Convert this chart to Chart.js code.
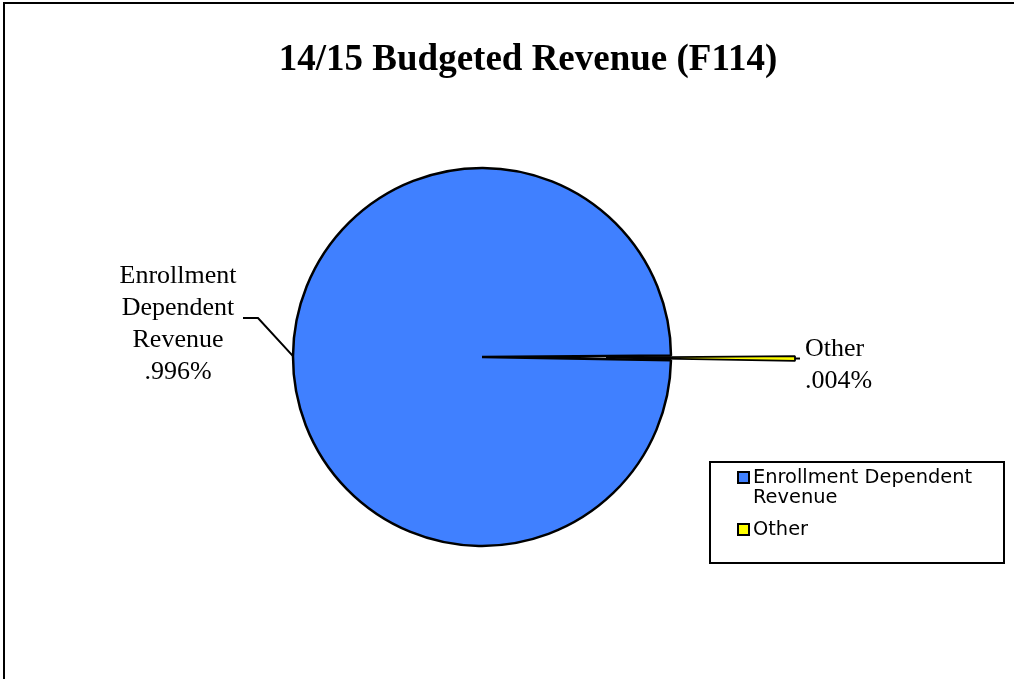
<!DOCTYPE html>
<html>
<head>
<meta charset="utf-8">
<title>14/15 Budgeted Revenue (F114)</title>
<script src="https://cdn.jsdelivr.net/npm/chart.js@4"></script>
<style>
    html, body { margin: 0; padding: 0; background: #fff; }
    canvas { display: block; }
</style>
</head>
<body>
<canvas id="revenueChart" width="1014" height="679"></canvas>
<script>
// Revenue split for the budget year
const chartTitle = '14/15 Budgeted Revenue (F114)';
const categories = ['Enrollment Dependent Revenue', 'Other'];
const shares = [0.996, 0.004];
const sliceColors = ['#4080ff', '#ffff00'];

const serif = '"Liberation Serif"';
const sans = '"DejaVu Sans"';

// ".996%" style labels, as printed on the chart
function shareLabel(v) {
    return String(v).replace(/^0(?=\.)/, '') + '%';
}

function wrapWords(ctx, text, maxWidth) {
    const words = text.split(' ');
    const lines = [];
    let line = '';
    words.forEach(w => {
        const test = line ? line + ' ' + w : w;
        if (line && ctx.measureText(test).width > maxWidth) {
            lines.push(line);
            line = w;
        } else {
            line = test;
        }
    });
    if (line) lines.push(line);
    return lines;
}

// Chart.js "offset" eats the angle of very thin slices, so explode them
// by moving the arc centre outward instead (keeps the full slice angle)
const explode = {
    id: 'explode',
    afterDatasetUpdate(chart, args, opts) {
        const dist = opts.distance || [];
        args.meta.data.forEach((arc, i) => {
            const d = dist[i] || 0;
            if (!d) return;
            const mid = (arc.startAngle + arc.endAngle) / 2;
            arc.x += Math.cos(mid) * d;
            arc.y += Math.sin(mid) * d;
        });
    }
};

const decorations = {
    id: 'decorations',
    afterDraw(chart) {
        const ctx = chart.ctx;
        const meta = chart.getDatasetMeta(0);
        ctx.save();

        // outer frame
        ctx.strokeStyle = '#000';
        ctx.lineWidth = 2;
        ctx.strokeRect(4, 3, 1030, 720);

        // title
        ctx.fillStyle = '#000';
        ctx.font = 'bold 37px ' + serif;
        ctx.textBaseline = 'alphabetic';
        ctx.textAlign = 'center';
        ctx.fillText(chartTitle, 528, 70);

        // slice labels with leader lines
        ctx.font = '26px ' + serif;
        meta.data.forEach((arc, i) => {
            const mid = (arc.startAngle + arc.endAngle) / 2;
            const ax = arc.x + Math.cos(mid) * arc.outerRadius;
            const ay = arc.y + Math.sin(mid) * arc.outerRadius;
            const lines = categories[i].split(' ').concat([shareLabel(shares[i])]);
            ctx.lineWidth = 2;
            ctx.strokeStyle = '#000';
            ctx.beginPath();
            if (Math.cos(mid) < 0) {
                // left side: elbow up to a short horizontal tail
                const ex = ax - 35, ey = ay - 38;
                ctx.moveTo(ax, ay);
                ctx.lineTo(ex, ey);
                ctx.lineTo(ex - 15, ey);
                ctx.stroke();
                ctx.textAlign = 'center';
                const cx = ex - 80;
                const top = ey - 35;
                lines.forEach((t, k) => ctx.fillText(t, cx, top + k * 32));
            } else {
                ctx.moveTo(ax, ay);
                ctx.lineTo(ax + 5, ay);
                ctx.stroke();
                ctx.textAlign = 'left';
                lines.forEach((t, k) => ctx.fillText(t, ax + 10, ay - 3 + k * 32));
            }
        });

        // legend box
        const lx = 710, ly = 462, lw = 294, lh = 101;
        ctx.lineWidth = 2;
        ctx.strokeRect(lx, ly, lw, lh);
        ctx.font = '19.4px ' + sans;
        ctx.textAlign = 'left';
        let baseline = ly + 21;
        categories.forEach((name, i) => {
            ctx.fillStyle = sliceColors[i];
            ctx.fillRect(lx + 28, baseline - 11, 11, 11);
            ctx.lineWidth = 2;
            ctx.strokeStyle = '#000';
            ctx.strokeRect(lx + 28, baseline - 11, 11, 11);
            ctx.fillStyle = '#000';
            const rows = wrapWords(ctx, name, 240);
            rows.forEach((t, k) => ctx.fillText(t, lx + 43, baseline + k * 20));
            baseline += rows.length * 20 + 12;
        });

        ctx.restore();
    }
};

function drawChart() {
    new Chart(document.getElementById('revenueChart'), {
        type: 'pie',
        data: {
            labels: categories,
            datasets: [{
                data: shares,
                backgroundColor: sliceColors,
                borderColor: '#000',
                borderWidth: [2.5, 1.8],
                hoverOffset: 0,
                radius: 189
            }]
        },
        options: {
            responsive: false,
            animation: false,
            rotation: 91,
            layout: {
                padding: { top: 100, bottom: 65, left: 0, right: 50 }
            },
            plugins: {
                legend: { display: false },
                title: { display: false },
                tooltip: { enabled: false },
                explode: { distance: [0, 124] }
            }
        },
        plugins: [explode, decorations]
    });
}

Promise.all([
    document.fonts.load('bold 37px ' + serif),
    document.fonts.load('26px ' + serif),
    document.fonts.load('19.4px ' + sans)
]).then(drawChart, drawChart);
</script>
</body>
</html>
